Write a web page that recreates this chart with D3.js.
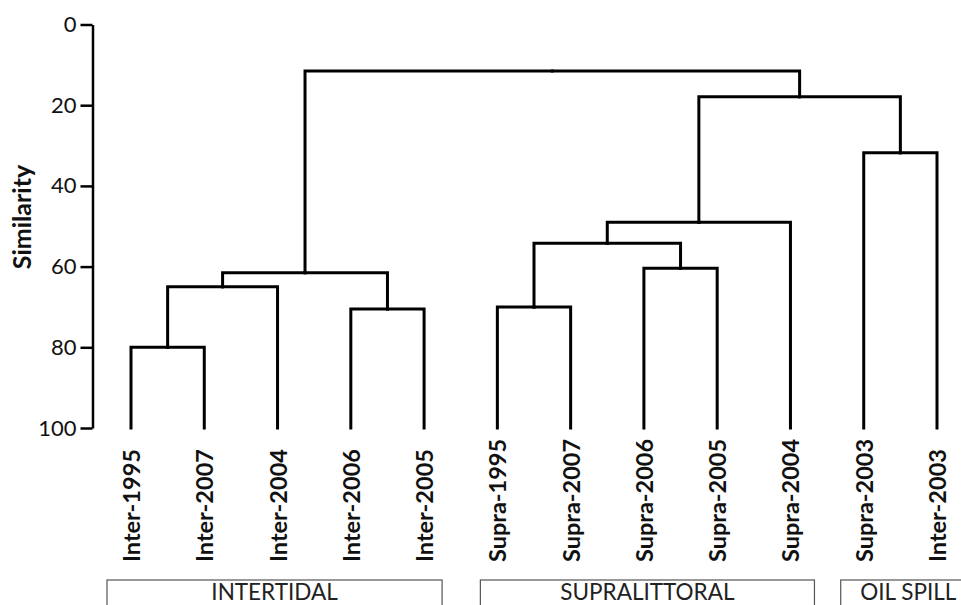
<!DOCTYPE html>
<html>
<head>
<meta charset="utf-8">
<script src="https://cdn.jsdelivr.net/npm/d3@7"></script>
<style>
  body { margin: 0; background: #fff; }
  svg { display: block; font-family: Lato, "Open Sans", sans-serif; }
  .link { fill: none; stroke: #000; stroke-width: 3; stroke-linecap: square; }
  .leaf-label { font-weight: bold; font-size: 23.5px; fill: #111; }
  .axis text { font-size: 22px; fill: #111; font-family: Lato, sans-serif; }
  .axis line, .axis path { stroke: #000; stroke-width: 2.5; }
  .group-box { fill: none; stroke: #555; stroke-width: 1.2; }
  .group-label { font-size: 22.5px; fill: #222; }
</style>
</head>
<body>
<div id="chart"></div>
<script>
const width = 961, height = 605;

// leaf order along the bottom
const leaves = ["Inter-1995", "Inter-2007", "Inter-2004", "Inter-2006", "Inter-2005",
  "Supra-1995", "Supra-2007", "Supra-2006", "Supra-2005", "Supra-2004",
  "Supra-2003", "Inter-2003"];

// linkage: [left, right, similarity]; ids 0-11 are leaves, 12+ are earlier merges
const merges = [
  [0, 1, 80],      // 12
  [12, 2, 65],     // 13
  [3, 4, 70.5],    // 14
  [13, 14, 61.5],  // 15
  [5, 6, 70],      // 16
  [7, 8, 60.4],    // 17
  [16, 17, 54.2],  // 18
  [18, 9, 49],     // 19
  [10, 11, 31.8],  // 20
  [19, 20, 17.9],  // 21
  [15, 21, 11.5]   // 22
];

const yTicks = [0, 20, 40, 60, 80, 100];

const groups = ["INTERTIDAL", "SUPRALITTORAL", "OIL SPILL"];
const groupFirst = ["Inter-1995", "Supra-1995", "Supra-2003"];
const groupLast = ["Inter-2005", "Supra-2004", "Inter-2003"];

const svg = d3.select("#chart").append("svg")
  .attr("width", width)
  .attr("height", height);

const x = d3.scalePoint().domain(leaves).range([131, 937]);
const y = d3.scaleLinear().domain([0, 100]).range([24.5, 428]);

// build nested tree from the linkage rows
const nodes = leaves.map(name => ({ name: name, sim: 100 }));
merges.forEach(m => {
  nodes.push({ children: [nodes[m[0]], nodes[m[1]]], sim: m[2] });
});
const root = d3.hierarchy(nodes[nodes.length - 1]);

root.eachAfter(d => {
  if (d.children) {
    d.px = (d.children[0].px + d.children[1].px) / 2;
  } else {
    d.px = x(d.data.name);
  }
  d.py = y(d.data.sim);
});

svg.append("g")
  .selectAll("path")
  .data(root.descendants().filter(d => d.parent))
  .join("path")
  .attr("class", "link")
  .attr("d", d => `M${d.px},${d.py}V${d.parent.py}H${d.parent.px}`);

// y axis
const axis = svg.append("g")
  .attr("class", "axis")
  .attr("transform", "translate(92.5,0)")
  .call(d3.axisLeft(y).tickValues(yTicks).tickSize(12).tickSizeOuter(0).tickPadding(4));

svg.append("text")
  .attr("transform", "translate(31,217) rotate(-90)")
  .attr("text-anchor", "middle")
  .style("font-weight", "bold")
  .style("font-size", "25px")
  .attr("fill", "#111")
  .text("Similarity");

// leaf labels
svg.append("g")
  .selectAll("text")
  .data(leaves)
  .join("text")
  .attr("class", "leaf-label")
  .attr("transform", d => `translate(${x(d) + 9},562) rotate(-90)`)
  .attr("text-anchor", "start")
  .text(d => d);

// group boxes under the labels
const boxPad = [[24, 18], [17, 24], [23, 39]];
const gBox = svg.append("g")
  .selectAll("g")
  .data(groups)
  .join("g");

gBox.append("rect")
  .attr("class", "group-box")
  .attr("x", (d, i) => x(groupFirst[i]) - boxPad[i][0])
  .attr("y", 580)
  .attr("width", (d, i) => x(groupLast[i]) + boxPad[i][1] - x(groupFirst[i]) + boxPad[i][0])
  .attr("height", 60);

gBox.append("text")
  .attr("class", "group-label")
  .attr("text-anchor", "middle")
  .attr("x", (d, i) => (x(groupFirst[i]) - boxPad[i][0] + x(groupLast[i]) + boxPad[i][1]) / 2)
  .attr("y", 600)
  .text(d => d);
</script>
</body>
</html>
